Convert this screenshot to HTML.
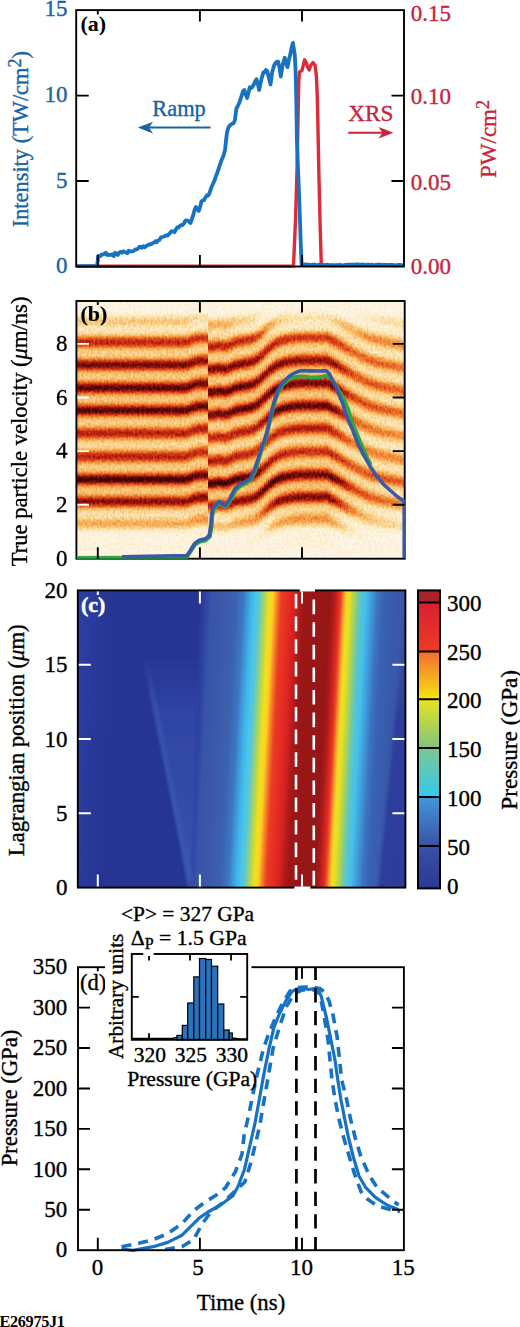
<!DOCTYPE html><html><head><meta charset="utf-8"><style>html,body{margin:0;padding:0;background:#fff;overflow:hidden}svg{display:block}</style></head><body>
<svg width="520" height="1327" viewBox="0 0 520 1327" font-family="Liberation Serif">
<defs><linearGradient id="frL" gradientUnits="userSpaceOnUse" x1="0" y1="290" x2="0" y2="600"><stop offset="0.0000" stop-color="#fbe8d5"/><stop offset="0.0903" stop-color="#fbe8d5"/><stop offset="0.1032" stop-color="#f7c495"/><stop offset="0.1129" stop-color="#f6b880"/><stop offset="0.1226" stop-color="#f9dcc0"/><stop offset="0.1355" stop-color="#f9e0c7"/><stop offset="0.1452" stop-color="#f2985a"/><stop offset="0.1548" stop-color="#d84820"/><stop offset="0.1677" stop-color="#bd2d15"/><stop offset="0.1806" stop-color="#e8723a"/><stop offset="0.1935" stop-color="#f6b880"/><stop offset="0.2065" stop-color="#f9e0c7"/><stop offset="0.2194" stop-color="#f9dcc0"/><stop offset="0.2290" stop-color="#bd2d15"/><stop offset="0.2371" stop-color="#801008"/><stop offset="0.2452" stop-color="#d84820"/><stop offset="0.2548" stop-color="#f4a86d"/><stop offset="0.2677" stop-color="#f9e0c7"/><stop offset="0.2839" stop-color="#f9dcc0"/><stop offset="0.2935" stop-color="#e05d2d"/><stop offset="0.3065" stop-color="#b02010"/><stop offset="0.3194" stop-color="#700d07"/><stop offset="0.3290" stop-color="#d84820"/><stop offset="0.3387" stop-color="#f6b880"/><stop offset="0.3516" stop-color="#fae2cc"/><stop offset="0.3645" stop-color="#f8d0aa"/><stop offset="0.3742" stop-color="#97170b"/><stop offset="0.3823" stop-color="#700d07"/><stop offset="0.3903" stop-color="#ca3a1a"/><stop offset="0.4000" stop-color="#f08848"/><stop offset="0.4129" stop-color="#f8d4b3"/><stop offset="0.4226" stop-color="#f8d0aa"/><stop offset="0.4355" stop-color="#f2985a"/><stop offset="0.4484" stop-color="#f08848"/><stop offset="0.4613" stop-color="#d84820"/><stop offset="0.4710" stop-color="#bd2d15"/><stop offset="0.4806" stop-color="#f4a86d"/><stop offset="0.4935" stop-color="#fae2cc"/><stop offset="0.5097" stop-color="#f9e0c7"/><stop offset="0.5194" stop-color="#e8723a"/><stop offset="0.5290" stop-color="#ca3a1a"/><stop offset="0.5387" stop-color="#bd2d15"/><stop offset="0.5484" stop-color="#ca3a1a"/><stop offset="0.5581" stop-color="#f2985a"/><stop offset="0.5710" stop-color="#f6b880"/><stop offset="0.5871" stop-color="#d84820"/><stop offset="0.5968" stop-color="#b02010"/><stop offset="0.6097" stop-color="#4c0805"/><stop offset="0.6194" stop-color="#410604"/><stop offset="0.6290" stop-color="#bd2d15"/><stop offset="0.6387" stop-color="#f4a86d"/><stop offset="0.6516" stop-color="#f9e0c7"/><stop offset="0.6645" stop-color="#f8d0aa"/><stop offset="0.6742" stop-color="#ca3a1a"/><stop offset="0.6839" stop-color="#a11b0d"/><stop offset="0.6935" stop-color="#d84820"/><stop offset="0.7032" stop-color="#f2985a"/><stop offset="0.7161" stop-color="#f8d0aa"/><stop offset="0.7290" stop-color="#f9e0c7"/><stop offset="0.7419" stop-color="#f7c495"/><stop offset="0.7548" stop-color="#f6b880"/><stop offset="0.7677" stop-color="#f9dcc0"/><stop offset="0.7871" stop-color="#fbe8d5"/><stop offset="0.8710" stop-color="#fbeada"/></linearGradient></defs>
<rect width="520" height="1327" fill="#fff"/>
<polyline points="76.5,266.2 200.0,266.2 293.5,266.0 295.5,220.0 297.0,170.0 298.0,120.0 298.8,80.0 299.5,72.0 302.0,70.5 304.6,59.8 306.5,63.0 307.5,67.0 309.2,70.0 311.0,65.0 313.0,62.5 315.0,65.0 316.3,75.0 317.2,94.0 317.8,120.0 318.8,170.0 320.0,220.0 321.2,262.0 322.0,265.4 404.0,265.4" fill="none" stroke="#dc2c3a" stroke-width="3.4" stroke-linejoin="round"/>
<polyline points="76.5,266.2 77.8,266.2 79.0,266.2 80.3,266.2 81.6,266.2 82.8,266.2 84.1,266.2 85.4,266.2 86.7,266.2 87.9,266.2 89.2,266.2 90.5,266.2 91.7,266.2 93.0,266.2 94.3,266.2 95.5,266.2 96.8,266.2 97.6,262.0 98.2,256.0 98.2,256.0 100.4,256.2 101.7,254.4 103.0,254.5 104.4,254.0 105.8,252.7 107.2,255.1 108.5,254.5 109.8,255.0 111.2,254.9 112.5,254.3 113.8,256.1 115.2,252.7 116.5,254.0 117.8,254.9 119.2,252.6 120.6,251.8 121.9,252.7 123.3,251.3 124.6,251.9 126.0,252.5 127.3,253.2 128.7,250.7 130.0,251.4 131.3,251.4 132.7,251.3 134.0,250.5 135.3,249.5 136.7,249.5 138.0,248.7 139.3,246.9 140.7,246.6 142.0,247.8 143.4,246.2 144.8,247.2 146.2,246.0 147.5,245.3 148.7,244.4 150.0,244.5 151.4,244.1 152.8,243.0 154.2,242.5 155.5,241.2 156.7,242.2 158.0,240.5 159.4,240.0 160.9,237.3 162.3,237.0 163.5,236.7 164.8,236.0 166.0,235.3 167.5,235.6 168.9,234.2 170.4,232.5 171.7,231.2 173.0,231.3 174.4,232.2 175.8,229.8 177.2,227.4 178.5,227.6 179.8,226.0 181.2,225.0 182.6,225.1 184.0,223.5 185.2,220.8 186.5,220.4 188.5,221.0 190.6,223.0 191.9,219.0 193.3,215.0 194.7,209.4 196.0,207.0 197.3,209.6 198.7,211.0 200.1,207.1 201.4,201.5 202.7,200.4 204.1,200.1 205.4,197.5 206.7,195.5 208.1,195.5 209.4,193.5 211.5,187.0 213.5,182.7 214.8,179.7 216.0,176.0 217.5,172.1 219.0,167.7 220.5,163.2 222.0,159.0 223.5,155.7 225.0,150.0 226.9,133.0 228.3,127.7 230.3,125.0 232.3,123.7 233.7,123.2 235.0,119.6 236.3,108.9 237.7,106.1 239.0,103.5 240.3,100.0 241.7,95.4 243.1,91.2 244.4,90.0 245.8,94.7 247.1,98.0 248.4,93.2 249.8,87.3 251.1,88.1 252.5,86.6 253.8,84.6 255.2,81.2 256.5,79.2 257.9,84.2 259.2,90.0 261.2,80.0 263.3,72.5 264.6,72.6 266.0,70.0 267.3,71.2 268.9,77.8 270.5,84.6 272.2,72.0 274.0,65.8 275.4,63.3 276.7,61.8 278.1,61.7 279.5,67.6 280.8,76.5 282.8,64.0 284.8,57.7 286.1,63.3 287.5,67.1 288.9,59.8 290.2,55.0 291.5,48.1 292.9,42.9 294.8,55.0 295.6,72.0 296.3,100.0 296.9,140.0 298.5,180.0 298.5,180.0 299.8,215.0 300.8,245.0 301.6,264.5 302.8,264.4 304.1,264.9 305.3,264.3 306.5,264.6 307.8,264.7 309.0,265.0 310.2,265.0 311.5,265.0 312.7,264.6 313.9,264.7 315.2,264.7 316.4,265.2 317.7,265.3 318.9,264.6 320.1,264.7 321.4,264.8 322.6,264.8 323.8,265.0 325.1,265.1 326.3,264.9 327.5,264.7 328.8,265.1 330.0,265.2 331.2,265.1 332.4,265.2 333.6,265.5 334.8,265.3 336.0,265.1 337.2,265.2 338.4,265.2 339.6,264.7 340.8,265.4 342.0,265.3 343.2,265.3 344.4,265.2 345.6,264.9 346.8,264.9 348.0,264.6 349.2,265.1 350.4,264.6 351.6,264.6 352.8,264.7 354.0,264.6 355.2,264.7 356.4,264.5 357.6,264.4 358.8,264.5 360.0,264.8 361.2,264.5 362.4,264.7 363.7,264.5 364.9,265.1 366.1,264.9 367.3,264.6 368.6,264.7 369.8,264.8 371.0,264.8 372.2,264.6 373.4,265.2 374.7,265.3 375.9,264.9 377.1,264.9 378.3,264.6 379.6,264.7 380.8,264.9 382.0,264.8 383.2,265.3 384.4,264.8 385.7,264.7 386.9,265.4 388.1,265.1 389.3,264.8 390.6,265.1 391.8,264.7 393.0,265.1 394.2,265.5 395.4,265.4 396.7,265.3 397.9,265.0 399.1,265.0 400.3,264.9 401.6,265.4 402.8,265.2 404.0,265.2" fill="none" stroke="#1872c2" stroke-width="3.8" stroke-linejoin="round"/>
<rect x="80" y="14" width="27" height="22" fill="#fff"/>
<rect x="76.2" y="10.1" width="327.8" height="256.4" fill="none" stroke="#000" stroke-width="1.9"/>
<path d="M97.8,10.1v11.5M97.8,266.5v-11.5M199.9,10.1v11.5M199.9,266.5v-11.5M302.0,10.1v11.5M302.0,266.5v-11.5M76.2,181.0h12.5M404.0,181.0h-12.5M76.2,95.6h12.5M404.0,95.6h-12.5" stroke="#000" stroke-width="1.9" fill="none"/>
<rect x="80" y="14.5" width="27" height="21" fill="#fff"/>
<text x="80.5" y="31.3" font-size="22" text-anchor="start" fill="#000" stroke="#000" stroke-width="0" font-weight="bold">(a)</text>
<text x="67.6" y="15.6" font-size="23" text-anchor="end" fill="#1763a3" stroke="#1763a3" stroke-width="0.35" >15</text>
<text x="67.6" y="101.5" font-size="23" text-anchor="end" fill="#1763a3" stroke="#1763a3" stroke-width="0.35" >10</text>
<text x="67.6" y="187.8" font-size="23" text-anchor="end" fill="#1763a3" stroke="#1763a3" stroke-width="0.35" >5</text>
<text x="67.6" y="273.2" font-size="23" text-anchor="end" fill="#1763a3" stroke="#1763a3" stroke-width="0.35" >0</text>
<text x="410.8" y="20.8" font-size="23" text-anchor="start" fill="#c8243c" stroke="#c8243c" stroke-width="0.35" >0.15</text>
<text x="410.8" y="103.6" font-size="23" text-anchor="start" fill="#c8243c" stroke="#c8243c" stroke-width="0.35" >0.10</text>
<text x="410.8" y="189.5" font-size="23" text-anchor="start" fill="#c8243c" stroke="#c8243c" stroke-width="0.35" >0.05</text>
<text x="410.8" y="273.6" font-size="23" text-anchor="start" fill="#c8243c" stroke="#c8243c" stroke-width="0.35" >0.00</text>
<text transform="translate(28.0,139.2) rotate(-90)" x="0" y="0" font-size="22.4" text-anchor="middle" fill="#1763a3" stroke="#1763a3" stroke-width="0.35" >Intensity (TW/cm<tspan dy="-7" font-size="18">2</tspan><tspan dy="7">)</tspan></text>
<text transform="translate(495.8,139) rotate(-90)" x="0" y="0" font-size="23.0" text-anchor="middle" fill="#c8243c" stroke="#c8243c" stroke-width="0.35" >PW/cm<tspan dy="-6.5" font-size="18">2</tspan></text>
<text x="152.3" y="116.2" font-size="22.4" text-anchor="start" fill="#1763a3" stroke="#1763a3" stroke-width="0.35" >Ramp</text>
<text x="348.2" y="121.2" font-size="23.2" text-anchor="start" fill="#c8243c" stroke="#c8243c" stroke-width="0.35" >XRS</text>
<line x1="148" y1="127.6" x2="210.5" y2="127.6" stroke="#1763a3" stroke-width="2"/>
<path d="M137.8,127.6 L153,121.8 L149,127.6 L153,133.4 Z" fill="#1763a3"/>
<line x1="348.2" y1="132.8" x2="384" y2="132.8" stroke="#c8243c" stroke-width="2"/>
<path d="M393.5,132.8 L378.5,127 L382.5,132.8 L378.5,138.6 Z" fill="#c8243c"/>
<defs><linearGradient id="fs" gradientUnits="userSpaceOnUse" x1="0" y1="330.57" x2="0" y2="353.43" spreadMethod="repeat"><stop offset="0.0000" stop-color="rgb(178,178,178)"/><stop offset="0.0417" stop-color="rgb(176,176,176)"/><stop offset="0.0833" stop-color="rgb(174,174,174)"/><stop offset="0.1250" stop-color="rgb(164,164,164)"/><stop offset="0.1667" stop-color="rgb(150,150,150)"/><stop offset="0.2083" stop-color="rgb(133,133,133)"/><stop offset="0.2500" stop-color="rgb(107,107,107)"/><stop offset="0.2917" stop-color="rgb(82,82,82)"/><stop offset="0.3333" stop-color="rgb(57,57,57)"/><stop offset="0.3750" stop-color="rgb(33,33,33)"/><stop offset="0.4167" stop-color="rgb(15,15,15)"/><stop offset="0.4583" stop-color="rgb(7,7,7)"/><stop offset="0.5000" stop-color="rgb(0,0,0)"/><stop offset="0.5417" stop-color="rgb(7,7,7)"/><stop offset="0.5833" stop-color="rgb(15,15,15)"/><stop offset="0.6250" stop-color="rgb(33,33,33)"/><stop offset="0.6667" stop-color="rgb(57,57,57)"/><stop offset="0.7083" stop-color="rgb(82,82,82)"/><stop offset="0.7500" stop-color="rgb(107,107,107)"/><stop offset="0.7917" stop-color="rgb(133,133,133)"/><stop offset="0.8333" stop-color="rgb(150,150,150)"/><stop offset="0.8750" stop-color="rgb(164,164,164)"/><stop offset="0.9167" stop-color="rgb(174,174,174)"/><stop offset="0.9583" stop-color="rgb(176,176,176)"/><stop offset="1.0000" stop-color="rgb(178,178,178)"/></linearGradient><linearGradient id="envW" gradientUnits="userSpaceOnUse" x1="0" y1="295" x2="0" y2="562"><stop offset="0.0000" stop-color="#fff" stop-opacity="0.970"/><stop offset="0.0637" stop-color="#fff" stop-opacity="0.940"/><stop offset="0.0861" stop-color="#fff" stop-opacity="0.800"/><stop offset="0.1049" stop-color="#fff" stop-opacity="0.670"/><stop offset="0.1311" stop-color="#fff" stop-opacity="0.550"/><stop offset="0.1573" stop-color="#fff" stop-opacity="0.300"/><stop offset="0.1873" stop-color="#fff" stop-opacity="0.250"/><stop offset="0.2247" stop-color="#fff" stop-opacity="0.220"/><stop offset="0.2622" stop-color="#fff" stop-opacity="0.100"/><stop offset="0.3109" stop-color="#fff" stop-opacity="0.150"/><stop offset="0.3521" stop-color="#fff" stop-opacity="0.050"/><stop offset="0.3933" stop-color="#fff" stop-opacity="0.100"/><stop offset="0.4307" stop-color="#fff" stop-opacity="0.050"/><stop offset="0.4794" stop-color="#fff" stop-opacity="0.200"/><stop offset="0.5281" stop-color="#fff" stop-opacity="0.250"/><stop offset="0.5655" stop-color="#fff" stop-opacity="0.320"/><stop offset="0.6067" stop-color="#fff" stop-opacity="0.240"/><stop offset="0.6554" stop-color="#fff" stop-opacity="0.150"/><stop offset="0.6966" stop-color="#fff" stop-opacity="0.000"/><stop offset="0.7341" stop-color="#fff" stop-opacity="0.100"/><stop offset="0.7753" stop-color="#fff" stop-opacity="0.140"/><stop offset="0.8090" stop-color="#fff" stop-opacity="0.350"/><stop offset="0.8352" stop-color="#fff" stop-opacity="0.550"/><stop offset="0.8614" stop-color="#fff" stop-opacity="0.650"/><stop offset="0.8876" stop-color="#fff" stop-opacity="0.850"/><stop offset="0.9176" stop-color="#fff" stop-opacity="0.950"/><stop offset="1.0000" stop-color="#fff" stop-opacity="0.980"/></linearGradient><linearGradient id="rW" gradientUnits="userSpaceOnUse" x1="330" y1="0" x2="404" y2="0"><stop offset="0" stop-color="#fff" stop-opacity="0"/><stop offset="0.35" stop-color="#fff" stop-opacity="0.3"/><stop offset="1" stop-color="#fff" stop-opacity="0.42"/></linearGradient><linearGradient id="bW" gradientUnits="userSpaceOnUse" x1="0" y1="500" x2="0" y2="530"><stop offset="0" stop-color="#fff" stop-opacity="0"/><stop offset="1" stop-color="#fff" stop-opacity="0.5"/></linearGradient><filter id="fcm" filterUnits="userSpaceOnUse" x="76.4" y="301" width="328.29999999999995" height="257.70000000000005" color-interpolation-filters="sRGB"><feTurbulence type="fractalNoise" baseFrequency="0.45 0.35" numOctaves="2" seed="3" result="n"/><feColorMatrix in="n" type="matrix" values="1 0 0 0 0  1 0 0 0 0  1 0 0 0 0  0 0 0 0 1" result="ng"/><feComposite in="SourceGraphic" in2="ng" operator="arithmetic" k1="0" k2="1" k3="0.3" k4="-0.15" result="sg"/><feComponentTransfer in="sg"><feFuncR type="table" tableValues="0.157 0.233 0.310 0.385 0.459 0.532 0.601 0.657 0.712 0.767 0.810 0.834 0.859 0.883 0.901 0.913 0.925 0.938 0.946 0.952 0.958 0.964 0.968 0.972 0.976 0.980 0.983 0.985 0.988 0.989 0.990 0.991 0.992"/><feFuncG type="table" tableValues="0.020 0.027 0.035 0.045 0.057 0.069 0.085 0.114 0.142 0.171 0.205 0.248 0.291 0.334 0.379 0.426 0.473 0.520 0.564 0.607 0.650 0.693 0.729 0.763 0.798 0.832 0.859 0.886 0.913 0.928 0.940 0.952 0.965"/><feFuncB type="table" tableValues="0.020 0.024 0.029 0.034 0.038 0.043 0.050 0.060 0.070 0.080 0.091 0.103 0.116 0.128 0.145 0.165 0.186 0.206 0.240 0.279 0.317 0.356 0.406 0.457 0.508 0.559 0.621 0.682 0.743 0.787 0.828 0.869 0.910"/></feComponentTransfer></filter></defs>
<clipPath id="cb"><rect x="76.4" y="301" width="328.29999999999995" height="257.70000000000005"/></clipPath>
<g clip-path="url(#cb)"><g filter="url(#fcm)">
<rect x="76.4" y="301" width="186" height="257.70000000000005" fill="url(#fs)"/>
<rect x="186.0" y="261" width="2.6" height="337.70000000000005" fill="url(#fs)" transform="translate(0,-0.42)"/>
<rect x="188.0" y="261" width="2.6" height="337.70000000000005" fill="url(#fs)" transform="translate(0,-1.05)"/>
<rect x="190.0" y="261" width="2.6" height="337.70000000000005" fill="url(#fs)" transform="translate(0,-1.89)"/>
<rect x="192.0" y="261" width="2.6" height="337.70000000000005" fill="url(#fs)" transform="translate(0,-2.68)"/>
<rect x="194.0" y="261" width="2.6" height="337.70000000000005" fill="url(#fs)" transform="translate(0,-3.47)"/>
<rect x="196.0" y="261" width="2.6" height="337.70000000000005" fill="url(#fs)" transform="translate(0,-3.87)"/>
<rect x="198.0" y="261" width="2.6" height="337.70000000000005" fill="url(#fs)" transform="translate(0,-4.28)"/>
<rect x="200.0" y="261" width="2.6" height="337.70000000000005" fill="url(#fs)" transform="translate(0,-4.35)"/>
<rect x="202.0" y="261" width="2.6" height="337.70000000000005" fill="url(#fs)" transform="translate(0,-4.41)"/>
<rect x="204.0" y="261" width="2.6" height="337.70000000000005" fill="url(#fs)" transform="translate(0,-4.47)"/>
<rect x="206.0" y="261" width="2.6" height="337.70000000000005" fill="url(#fs)" transform="translate(0,-4.54)"/>
<rect x="208.0" y="261" width="2.6" height="337.70000000000005" fill="url(#fs)" transform="translate(0,4.63)"/>
<rect x="210.0" y="261" width="2.6" height="337.70000000000005" fill="url(#fs)" transform="translate(0,4.63)"/>
<rect x="212.0" y="261" width="2.6" height="337.70000000000005" fill="url(#fs)" transform="translate(0,4.63)"/>
<rect x="214.0" y="261" width="2.6" height="337.70000000000005" fill="url(#fs)" transform="translate(0,4.21)"/>
<rect x="216.0" y="261" width="2.6" height="337.70000000000005" fill="url(#fs)" transform="translate(0,3.79)"/>
<rect x="218.0" y="261" width="2.6" height="337.70000000000005" fill="url(#fs)" transform="translate(0,3.37)"/>
<rect x="220.0" y="261" width="2.6" height="337.70000000000005" fill="url(#fs)" transform="translate(0,3.79)"/>
<rect x="222.0" y="261" width="2.6" height="337.70000000000005" fill="url(#fs)" transform="translate(0,4.05)"/>
<rect x="224.0" y="261" width="2.6" height="337.70000000000005" fill="url(#fs)" transform="translate(0,4.14)"/>
<rect x="226.0" y="261" width="2.6" height="337.70000000000005" fill="url(#fs)" transform="translate(0,3.83)"/>
<rect x="228.0" y="261" width="2.6" height="337.70000000000005" fill="url(#fs)" transform="translate(0,3.10)"/>
<rect x="230.0" y="261" width="2.6" height="337.70000000000005" fill="url(#fs)" transform="translate(0,2.24)"/>
<rect x="232.0" y="261" width="2.6" height="337.70000000000005" fill="url(#fs)" transform="translate(0,1.23)"/>
<rect x="234.0" y="261" width="2.6" height="337.70000000000005" fill="url(#fs)" transform="translate(0,0.22)"/>
<rect x="236.0" y="261" width="2.6" height="337.70000000000005" fill="url(#fs)" transform="translate(0,-0.28)"/>
<rect x="238.0" y="261" width="2.6" height="337.70000000000005" fill="url(#fs)" transform="translate(0,-0.79)"/>
<rect x="240.0" y="261" width="2.6" height="337.70000000000005" fill="url(#fs)" transform="translate(0,-1.20)"/>
<rect x="242.0" y="261" width="2.6" height="337.70000000000005" fill="url(#fs)" transform="translate(0,-1.51)"/>
<rect x="244.0" y="261" width="2.6" height="337.70000000000005" fill="url(#fs)" transform="translate(0,-1.83)"/>
<rect x="246.0" y="261" width="2.6" height="337.70000000000005" fill="url(#fs)" transform="translate(0,-2.14)"/>
<rect x="248.0" y="261" width="2.6" height="337.70000000000005" fill="url(#fs)" transform="translate(0,-2.61)"/>
<rect x="250.0" y="261" width="2.6" height="337.70000000000005" fill="url(#fs)" transform="translate(0,-3.24)"/>
<rect x="252.0" y="261" width="2.6" height="337.70000000000005" fill="url(#fs)" transform="translate(0,-3.88)"/>
<rect x="254.0" y="261" width="2.6" height="337.70000000000005" fill="url(#fs)" transform="translate(0,-4.82)"/>
<rect x="256.0" y="261" width="2.6" height="337.70000000000005" fill="url(#fs)" transform="translate(0,-6.08)"/>
<rect x="258.0" y="261" width="2.6" height="337.70000000000005" fill="url(#fs)" transform="translate(0,-7.50)"/>
<rect x="260.0" y="261" width="2.6" height="337.70000000000005" fill="url(#fs)" transform="translate(0,-9.07)"/>
<rect x="262.0" y="261" width="2.6" height="337.70000000000005" fill="url(#fs)" transform="translate(0,-10.80)"/>
<rect x="264.0" y="261" width="2.6" height="337.70000000000005" fill="url(#fs)" transform="translate(0,-12.70)"/>
<rect x="266.0" y="261" width="2.6" height="337.70000000000005" fill="url(#fs)" transform="translate(0,-14.59)"/>
<rect x="268.0" y="261" width="2.6" height="337.70000000000005" fill="url(#fs)" transform="translate(0,-16.47)"/>
<rect x="270.0" y="261" width="2.6" height="337.70000000000005" fill="url(#fs)" transform="translate(0,-18.21)"/>
<rect x="272.0" y="261" width="2.6" height="337.70000000000005" fill="url(#fs)" transform="translate(0,-19.78)"/>
<rect x="274.0" y="261" width="2.6" height="337.70000000000005" fill="url(#fs)" transform="translate(0,-21.20)"/>
<rect x="276.0" y="261" width="2.6" height="337.70000000000005" fill="url(#fs)" transform="translate(0,-22.46)"/>
<rect x="278.0" y="261" width="2.6" height="337.70000000000005" fill="url(#fs)" transform="translate(0,-23.47)"/>
<rect x="280.0" y="261" width="2.6" height="337.70000000000005" fill="url(#fs)" transform="translate(0,-24.22)"/>
<rect x="282.0" y="261" width="2.6" height="337.70000000000005" fill="url(#fs)" transform="translate(0,-24.98)"/>
<rect x="284.0" y="261" width="2.6" height="337.70000000000005" fill="url(#fs)" transform="translate(0,-25.43)"/>
<rect x="286.0" y="261" width="2.6" height="337.70000000000005" fill="url(#fs)" transform="translate(0,-25.88)"/>
<rect x="288.0" y="261" width="2.6" height="337.70000000000005" fill="url(#fs)" transform="translate(0,-26.33)"/>
<rect x="290.0" y="261" width="2.6" height="337.70000000000005" fill="url(#fs)" transform="translate(0,-26.69)"/>
<rect x="292.0" y="261" width="2.6" height="337.70000000000005" fill="url(#fs)" transform="translate(0,-26.96)"/>
<rect x="294.0" y="261" width="2.6" height="337.70000000000005" fill="url(#fs)" transform="translate(0,-27.23)"/>
<rect x="296.0" y="261" width="2.6" height="337.70000000000005" fill="url(#fs)" transform="translate(0,-27.50)"/>
<rect x="298.0" y="261" width="2.6" height="337.70000000000005" fill="url(#fs)" transform="translate(0,-27.61)"/>
<rect x="300.0" y="261" width="2.6" height="337.70000000000005" fill="url(#fs)" transform="translate(0,-27.71)"/>
<rect x="302.0" y="261" width="2.6" height="337.70000000000005" fill="url(#fs)" transform="translate(0,-27.81)"/>
<rect x="304.0" y="261" width="2.6" height="337.70000000000005" fill="url(#fs)" transform="translate(0,-27.81)"/>
<rect x="306.0" y="261" width="2.6" height="337.70000000000005" fill="url(#fs)" transform="translate(0,-27.81)"/>
<rect x="308.0" y="261" width="2.6" height="337.70000000000005" fill="url(#fs)" transform="translate(0,-27.81)"/>
<rect x="310.0" y="261" width="2.6" height="337.70000000000005" fill="url(#fs)" transform="translate(0,-27.81)"/>
<rect x="312.0" y="261" width="2.6" height="337.70000000000005" fill="url(#fs)" transform="translate(0,-27.81)"/>
<rect x="314.0" y="261" width="2.6" height="337.70000000000005" fill="url(#fs)" transform="translate(0,-27.81)"/>
<rect x="316.0" y="261" width="2.6" height="337.70000000000005" fill="url(#fs)" transform="translate(0,-27.81)"/>
<rect x="318.0" y="261" width="2.6" height="337.70000000000005" fill="url(#fs)" transform="translate(0,-27.81)"/>
<rect x="320.0" y="261" width="2.6" height="337.70000000000005" fill="url(#fs)" transform="translate(0,-27.81)"/>
<rect x="322.0" y="261" width="2.6" height="337.70000000000005" fill="url(#fs)" transform="translate(0,-27.81)"/>
<rect x="324.0" y="261" width="2.6" height="337.70000000000005" fill="url(#fs)" transform="translate(0,-27.81)"/>
<rect x="326.0" y="261" width="2.6" height="337.70000000000005" fill="url(#fs)" transform="translate(0,-27.81)"/>
<rect x="328.0" y="261" width="2.6" height="337.70000000000005" fill="url(#fs)" transform="translate(0,-26.76)"/>
<rect x="330.0" y="261" width="2.6" height="337.70000000000005" fill="url(#fs)" transform="translate(0,-25.61)"/>
<rect x="332.0" y="261" width="2.6" height="337.70000000000005" fill="url(#fs)" transform="translate(0,-24.35)"/>
<rect x="334.0" y="261" width="2.6" height="337.70000000000005" fill="url(#fs)" transform="translate(0,-23.40)"/>
<rect x="336.0" y="261" width="2.6" height="337.70000000000005" fill="url(#fs)" transform="translate(0,-22.46)"/>
<rect x="338.0" y="261" width="2.6" height="337.70000000000005" fill="url(#fs)" transform="translate(0,-21.20)"/>
<rect x="340.0" y="261" width="2.6" height="337.70000000000005" fill="url(#fs)" transform="translate(0,-19.94)"/>
<rect x="342.0" y="261" width="2.6" height="337.70000000000005" fill="url(#fs)" transform="translate(0,-18.68)"/>
<rect x="344.0" y="261" width="2.6" height="337.70000000000005" fill="url(#fs)" transform="translate(0,-17.42)"/>
<rect x="346.0" y="261" width="2.6" height="337.70000000000005" fill="url(#fs)" transform="translate(0,-16.16)"/>
<rect x="348.0" y="261" width="2.6" height="337.70000000000005" fill="url(#fs)" transform="translate(0,-15.15)"/>
<rect x="350.0" y="261" width="2.6" height="337.70000000000005" fill="url(#fs)" transform="translate(0,-14.14)"/>
<rect x="352.0" y="261" width="2.6" height="337.70000000000005" fill="url(#fs)" transform="translate(0,-13.12)"/>
<rect x="354.0" y="261" width="2.6" height="337.70000000000005" fill="url(#fs)" transform="translate(0,-12.06)"/>
<rect x="356.0" y="261" width="2.6" height="337.70000000000005" fill="url(#fs)" transform="translate(0,-11.01)"/>
<rect x="358.0" y="261" width="2.6" height="337.70000000000005" fill="url(#fs)" transform="translate(0,-9.96)"/>
<rect x="360.0" y="261" width="2.6" height="337.70000000000005" fill="url(#fs)" transform="translate(0,-8.91)"/>
<rect x="362.0" y="261" width="2.6" height="337.70000000000005" fill="url(#fs)" transform="translate(0,-7.87)"/>
<rect x="364.0" y="261" width="2.6" height="337.70000000000005" fill="url(#fs)" transform="translate(0,-6.92)"/>
<rect x="366.0" y="261" width="2.6" height="337.70000000000005" fill="url(#fs)" transform="translate(0,-6.08)"/>
<rect x="368.0" y="261" width="2.6" height="337.70000000000005" fill="url(#fs)" transform="translate(0,-5.24)"/>
<rect x="370.0" y="261" width="2.6" height="337.70000000000005" fill="url(#fs)" transform="translate(0,-4.51)"/>
<rect x="372.0" y="261" width="2.6" height="337.70000000000005" fill="url(#fs)" transform="translate(0,-3.88)"/>
<rect x="374.0" y="261" width="2.6" height="337.70000000000005" fill="url(#fs)" transform="translate(0,-3.24)"/>
<rect x="376.0" y="261" width="2.6" height="337.70000000000005" fill="url(#fs)" transform="translate(0,-2.65)"/>
<rect x="378.0" y="261" width="2.6" height="337.70000000000005" fill="url(#fs)" transform="translate(0,-2.10)"/>
<rect x="380.0" y="261" width="2.6" height="337.70000000000005" fill="url(#fs)" transform="translate(0,-1.55)"/>
<rect x="382.0" y="261" width="2.6" height="337.70000000000005" fill="url(#fs)" transform="translate(0,-1.00)"/>
<rect x="384.0" y="261" width="2.6" height="337.70000000000005" fill="url(#fs)" transform="translate(0,-0.53)"/>
<rect x="386.0" y="261" width="2.6" height="337.70000000000005" fill="url(#fs)" transform="translate(0,-0.13)"/>
<rect x="388.0" y="261" width="2.6" height="337.70000000000005" fill="url(#fs)" transform="translate(0,0.26)"/>
<rect x="390.0" y="261" width="2.6" height="337.70000000000005" fill="url(#fs)" transform="translate(0,0.65)"/>
<rect x="392.0" y="261" width="2.6" height="337.70000000000005" fill="url(#fs)" transform="translate(0,1.06)"/>
<rect x="394.0" y="261" width="2.6" height="337.70000000000005" fill="url(#fs)" transform="translate(0,1.48)"/>
<rect x="396.0" y="261" width="2.6" height="337.70000000000005" fill="url(#fs)" transform="translate(0,1.90)"/>
<rect x="398.0" y="261" width="2.6" height="337.70000000000005" fill="url(#fs)" transform="translate(0,2.32)"/>
<rect x="400.0" y="261" width="2.6" height="337.70000000000005" fill="url(#fs)" transform="translate(0,2.74)"/>
<rect x="402.0" y="261" width="2.6" height="337.70000000000005" fill="url(#fs)" transform="translate(0,3.16)"/>
<rect x="404.0" y="261" width="2.6" height="337.70000000000005" fill="url(#fs)" transform="translate(0,3.37)"/>
<rect x="76.4" y="301" width="328.29999999999995" height="257.70000000000005" fill="url(#envW)"/>
<rect x="330" y="301" width="80" height="257.70000000000005" fill="url(#rW)"/>
</g></g>
<rect x="76.4" y="301" width="328.29999999999995" height="257.70000000000005" fill="none" stroke="#000" stroke-width="1.9"/>
<polyline points="76.5,557.8 186.9,557.3 190.5,552.0 195.0,545.0 199.5,542.0 205.8,540.5 210.0,537.0 211.8,527.0 212.5,516.0 214.0,509.0 217.0,506.0 220.0,503.5 223.0,505.5 226.0,507.0 230.0,501.5 232.5,497.0 235.5,491.0 240.0,486.5 246.0,483.5 251.0,480.0 255.0,472.0 258.8,460.0 263.0,446.0 265.3,441.0 267.8,432.0 271.3,416.5 274.7,403.0 278.2,393.0 283.2,384.5 290.0,378.5 297.5,376.5 302.7,376.3 312.1,377.5 319.0,377.3 326.0,375.6 330.6,378.0 335.5,384.5 340.0,392.0 344.5,400.0 348.5,410.0 352.0,422.0 356.5,432.2 362.0,445.6 367.5,458.0 371.0,465.0" fill="none" stroke="#2ca844" stroke-width="3.4" stroke-linejoin="round" clip-path="url(#cb)"/>
<polyline points="122.0,556.8 186.9,555.6 190.0,551.0 194.6,543.5 199.2,540.3 205.4,538.8 209.2,535.4 210.8,526.0 211.5,515.4 213.0,507.7 216.2,504.6 219.2,501.5 222.3,503.8 225.4,505.4 229.2,500.0 231.5,495.4 234.6,489.2 239.2,484.6 245.4,481.5 250.0,479.0 254.0,471.0 258.0,459.0 262.3,445.4 264.5,440.0 267.1,431.2 270.6,415.6 274.0,401.7 277.5,391.3 282.7,382.7 289.6,375.8 296.5,372.0 301.7,370.6 312.1,370.9 319.0,371.0 326.0,370.6 329.4,374.0 332.9,381.0 336.3,387.9 339.8,396.5 343.3,405.2 346.9,417.0 352.3,429.2 357.7,443.0 363.8,455.4 370.0,466.2 376.2,475.4 383.8,484.6 391.5,491.5 397.7,497.0 404.2,501.5 404.2,558.0" fill="none" stroke="#3b5aa6" stroke-width="3.6" stroke-linejoin="round"/>
<path d="M97.8,301v4M97.8,558.7v-11.5M199.9,301v11.5M199.9,558.7v-11.5M302.0,301v11.5M302.0,558.7v-11.5M404.7,504.7h-12M404.7,451.1h-12M404.7,397.5h-12M404.7,343.9h-12" stroke="#000" stroke-width="1.9" fill="none"/>
<path d="M77.4,504.7h11.5M77.4,451.1h11.5M77.4,397.5h11.5M77.4,343.9h11.5" stroke="#fff" stroke-width="1.9" fill="none"/>
<text x="80.5" y="320.6" font-size="22" text-anchor="start" fill="#000" stroke="#000" stroke-width="0.2" font-weight="bold">(b)</text>
<text x="67.6" y="565.5999999999999" font-size="23" text-anchor="end" fill="#000" stroke="#000" stroke-width="0.35" >0</text>
<text x="67.6" y="511.99999999999994" font-size="23" text-anchor="end" fill="#000" stroke="#000" stroke-width="0.35" >2</text>
<text x="67.6" y="458.4" font-size="23" text-anchor="end" fill="#000" stroke="#000" stroke-width="0.35" >4</text>
<text x="67.6" y="404.79999999999995" font-size="23" text-anchor="end" fill="#000" stroke="#000" stroke-width="0.35" >6</text>
<text x="67.6" y="351.2" font-size="23" text-anchor="end" fill="#000" stroke="#000" stroke-width="0.35" >8</text>
<text transform="translate(27.3,431.4) rotate(-90)" x="0" y="0" font-size="22.6" text-anchor="middle" fill="#000" stroke="#000" stroke-width="0.35" >True particle velocity (<tspan font-style="italic">&#956;</tspan>m/ns)</text>
<defs><linearGradient id="pc" gradientUnits="userSpaceOnUse" x1="60" y1="0" x2="440" y2="0" gradientTransform="matrix(1,0,-0.053,1,39.22,0)"><stop offset="0.0447" stop-color="#2c3e9e"/><stop offset="0.0842" stop-color="#29399a"/><stop offset="0.1316" stop-color="#263592"/><stop offset="0.3474" stop-color="#263592"/><stop offset="0.3605" stop-color="#2c40a0"/><stop offset="0.3789" stop-color="#3854a8"/><stop offset="0.4053" stop-color="#3b58a8"/><stop offset="0.4421" stop-color="#3b62b0"/><stop offset="0.4632" stop-color="#3c78c4"/><stop offset="0.4737" stop-color="#3e98d8"/><stop offset="0.4842" stop-color="#40b4e8"/><stop offset="0.4947" stop-color="#48c4ec"/><stop offset="0.5039" stop-color="#5cc8d0"/><stop offset="0.5132" stop-color="#88d090"/><stop offset="0.5221" stop-color="#c0d840"/><stop offset="0.5316" stop-color="#f0e020"/><stop offset="0.5416" stop-color="#fcd020"/><stop offset="0.5474" stop-color="#f8a028"/><stop offset="0.5553" stop-color="#f26a26"/><stop offset="0.5632" stop-color="#ea3c24"/><stop offset="0.5842" stop-color="#e42a22"/><stop offset="0.6000" stop-color="#d02020"/><stop offset="0.6105" stop-color="#b01a1a"/><stop offset="0.6237" stop-color="#9c1616"/><stop offset="0.6895" stop-color="#961616"/><stop offset="0.7000" stop-color="#a81a1a"/><stop offset="0.7079" stop-color="#cc2020"/><stop offset="0.7158" stop-color="#e23022"/><stop offset="0.7224" stop-color="#f06028"/><stop offset="0.7276" stop-color="#f6a02a"/><stop offset="0.7342" stop-color="#f4d824"/><stop offset="0.7421" stop-color="#e8e020"/><stop offset="0.7500" stop-color="#c0d840"/><stop offset="0.7579" stop-color="#98d070"/><stop offset="0.7658" stop-color="#70c8a8"/><stop offset="0.7750" stop-color="#50c4d8"/><stop offset="0.7842" stop-color="#46c0ec"/><stop offset="0.7947" stop-color="#40a8e0"/><stop offset="0.8053" stop-color="#3e90d0"/><stop offset="0.8158" stop-color="#3c74c0"/><stop offset="0.8316" stop-color="#3a62b4"/><stop offset="0.8684" stop-color="#3858a8"/><stop offset="0.9737" stop-color="#3450a6"/></linearGradient></defs>
<rect x="77.8" y="590.4" width="327.59999999999997" height="297.20000000000005" fill="url(#pc)"/>
<defs><linearGradient id="wdg" gradientUnits="userSpaceOnUse" x1="0" y1="655" x2="0" y2="880"><stop offset="0" stop-color="#2c40a2" stop-opacity="0"/><stop offset="0.25" stop-color="#2e44a4" stop-opacity="1"/><stop offset="1" stop-color="#3854ac" stop-opacity="1"/></linearGradient><linearGradient id="stg" gradientUnits="userSpaceOnUse" x1="0" y1="655" x2="0" y2="870"><stop offset="0" stop-color="#3a58b0" stop-opacity="0"/><stop offset="0.25" stop-color="#3a58b0" stop-opacity="0.7"/><stop offset="1" stop-color="#3a58b0" stop-opacity="0.9"/></linearGradient><linearGradient id="rwg" gradientUnits="userSpaceOnUse" x1="0" y1="620" x2="0" y2="720"><stop offset="0" stop-color="#2c3a9a" stop-opacity="0"/><stop offset="1" stop-color="#2c3a9a" stop-opacity="0.9"/></linearGradient><filter id="bl2" x="-20%" y="-5%" width="140%" height="110%"><feGaussianBlur stdDeviation="1.6"/></filter></defs>
<clipPath id="cc"><rect x="77.8" y="590.4" width="327.59999999999997" height="297.20000000000005"/></clipPath><g clip-path="url(#cc)">
<polygon points="145,660 199,660 191,890.6 189.5,890.6" fill="url(#wdg)" filter="url(#bl2)"/>
<line x1="145" y1="658" x2="190" y2="880" stroke="url(#stg)" stroke-width="5" filter="url(#bl2)"/>
<polygon points="406,612 378,889.6 406,889.6" fill="url(#rwg)" filter="url(#bl2)"/>
</g>
<path d="M296,594V887.6" stroke="#fff" stroke-width="2.6" stroke-dasharray="14.6 8" fill="none"/>
<path d="M313.8,599.6V887.6" stroke="#fff" stroke-width="2.6" stroke-dasharray="14.6 8" fill="none"/>
<rect x="77.8" y="590.4" width="327.59999999999997" height="297.20000000000005" fill="none" stroke="#000" stroke-width="1.9"/>
<rect x="299.7" y="588" width="15.3" height="3.5" fill="#fff"/>
<rect x="294.4" y="886.5" width="16" height="3" fill="#fff"/>
<path d="M97.8,591.4v3.5M97.8,886.6v-12M199.9,591.4v12M199.9,886.6v-12M302.0,591.4v12M302.0,886.6v-12M78.8,813.3h12M404.4,813.3h-12M78.8,739.0h12M404.4,739.0h-12M78.8,664.7h12M404.4,664.7h-12" stroke="#fff" stroke-width="2" fill="none"/>
<text x="81" y="612" font-size="22" text-anchor="start" fill="#fff" stroke="#fff" stroke-width="0.5" font-weight="bold">(c)</text>
<text x="67.6" y="895.2" font-size="23" text-anchor="end" fill="#000" stroke="#000" stroke-width="0.35" >0</text>
<text x="67.6" y="820.9" font-size="23" text-anchor="end" fill="#000" stroke="#000" stroke-width="0.35" >5</text>
<text x="67.6" y="746.6" font-size="23" text-anchor="end" fill="#000" stroke="#000" stroke-width="0.35" >10</text>
<text x="67.6" y="672.3000000000001" font-size="23" text-anchor="end" fill="#000" stroke="#000" stroke-width="0.35" >15</text>
<text x="67.6" y="598.0" font-size="23" text-anchor="end" fill="#000" stroke="#000" stroke-width="0.35" >20</text>
<text transform="translate(24.3,740.3) rotate(-90)" x="0" y="0" font-size="22.7" text-anchor="middle" fill="#000" stroke="#000" stroke-width="0.35" >Lagrangian position (<tspan font-style="italic">&#956;</tspan>m)</text>
<defs><linearGradient id="cbg0" x1="0" y1="0" x2="0" y2="1"><stop offset="0" stop-color="#a8242a"/><stop offset="1" stop-color="#a8242a"/></linearGradient><linearGradient id="cbg1" x1="0" y1="0" x2="0" y2="1"><stop offset="0" stop-color="#d82030"/><stop offset="1" stop-color="#f03a26"/></linearGradient><linearGradient id="cbg2" x1="0" y1="0" x2="0" y2="1"><stop offset="0" stop-color="#f06c30"/><stop offset="1" stop-color="#f8e410"/></linearGradient><linearGradient id="cbg3" x1="0" y1="0" x2="0" y2="1"><stop offset="0" stop-color="#e8e41e"/><stop offset="1" stop-color="#80c47c"/></linearGradient><linearGradient id="cbg4" x1="0" y1="0" x2="0" y2="1"><stop offset="0" stop-color="#7cc890"/><stop offset="1" stop-color="#34c8f0"/></linearGradient><linearGradient id="cbg5" x1="0" y1="0" x2="0" y2="1"><stop offset="0" stop-color="#4098d8"/><stop offset="1" stop-color="#3a52a8"/></linearGradient><linearGradient id="cbg6" x1="0" y1="0" x2="0" y2="1"><stop offset="0" stop-color="#3a50a8"/><stop offset="1" stop-color="#2a3896"/></linearGradient></defs>
<rect x="418" y="590.4" width="22" height="12.0" fill="url(#cbg0)"/>
<rect x="418" y="602.4" width="22" height="49.200000000000045" fill="url(#cbg1)"/>
<rect x="418" y="651.6" width="22" height="47.69999999999993" fill="url(#cbg2)"/>
<rect x="418" y="699.3" width="22" height="48.700000000000045" fill="url(#cbg3)"/>
<rect x="418" y="748" width="22" height="48.89999999999998" fill="url(#cbg4)"/>
<rect x="418" y="796.9" width="22" height="49.10000000000002" fill="url(#cbg5)"/>
<rect x="418" y="846" width="22" height="42.39999999999998" fill="url(#cbg6)"/>
<path d="M418,602.4H440M418,651.6H440M418,699.3H440M418,748H440M418,796.9H440M418,846H440" stroke="#000" stroke-width="2" fill="none"/>
<rect x="418" y="590.4" width="22" height="298.0" fill="none" stroke="#000" stroke-width="2"/>
<text x="446.9" y="611.2" font-size="23" text-anchor="start" fill="#000" stroke="#000" stroke-width="0.35" >300</text>
<text x="446.9" y="659.7" font-size="23" text-anchor="start" fill="#000" stroke="#000" stroke-width="0.35" >250</text>
<text x="446.9" y="708.2" font-size="23" text-anchor="start" fill="#000" stroke="#000" stroke-width="0.35" >200</text>
<text x="446.9" y="757.2" font-size="23" text-anchor="start" fill="#000" stroke="#000" stroke-width="0.35" >150</text>
<text x="446.9" y="806.0" font-size="23" text-anchor="start" fill="#000" stroke="#000" stroke-width="0.35" >100</text>
<text x="446.9" y="854.7" font-size="23" text-anchor="start" fill="#000" stroke="#000" stroke-width="0.35" >50</text>
<text x="446.9" y="894.2" font-size="23" text-anchor="start" fill="#000" stroke="#000" stroke-width="0.35" >0</text>
<text transform="translate(516.9,739.8) rotate(-90)" x="0" y="0" font-size="23.2" text-anchor="middle" fill="#000" stroke="#000" stroke-width="0.35" >Pressure (GPa)</text>
<polyline points="121.5,1246.7 138.8,1243.3 153.3,1239.5 167.7,1233.7 182.0,1223.6 193.6,1210.7 205.2,1202.0 216.7,1194.8 225.5,1187.7 235.5,1171.5 242.0,1154.2 244.2,1134.6 248.8,1115.0 251.7,1100.0 257.0,1075.0 263.7,1047.8 268.5,1034.3 275.3,1018.0 282.0,1004.4 290.0,991.0 297.0,987.5 306.0,987.0 314.0,987.5 320.0,988.5 324.5,992.0 329.0,1001.0 333.0,1015.0 337.0,1036.0 341.7,1080.0 346.5,1099.0 350.4,1118.5 355.2,1137.7 361.0,1157.0 369.6,1176.0 377.3,1187.7 390.8,1199.0 398.5,1205.0" fill="none" stroke="#1872c2" stroke-width="3.6" stroke-dasharray="10 7" stroke-linejoin="round"/>
<polyline points="165.0,1249.5 182.0,1246.7 193.6,1239.5 202.3,1223.6 211.0,1212.0 225.4,1200.6 234.0,1192.0 244.8,1182.0 250.6,1163.5 255.2,1145.0 259.8,1125.4 263.3,1104.6 268.5,1075.0 273.2,1047.8 279.3,1027.5 286.1,1007.0 294.3,993.6 302.0,990.0 312.0,989.5 318.0,991.0 321.0,1000.0 324.0,1015.0 328.0,1040.0 332.0,1080.0 335.0,1099.0 338.8,1118.5 343.7,1137.7 349.4,1157.0 355.2,1176.0 361.0,1191.5 367.7,1199.2 377.3,1206.0 394.6,1210.8 400.0,1211.5" fill="none" stroke="#1872c2" stroke-width="3.6" stroke-dasharray="10 7" stroke-linejoin="round"/>
<polyline points="121.5,1249.0 133.0,1250.3 153.3,1246.7 167.7,1242.4 182.0,1235.2 193.6,1223.6 199.4,1217.9 208.0,1212.0 220.5,1205.0 233.0,1195.8 238.0,1186.5 244.5,1169.2 249.8,1146.0 255.0,1123.0 259.2,1100.0 263.7,1075.0 269.2,1047.8 273.9,1027.5 279.3,1014.0 286.1,1000.4 292.0,991.5 297.0,989.0 303.0,988.5 309.0,989.5 314.0,988.5 318.0,989.0 321.2,996.2 326.4,1017.3 330.7,1038.5 334.9,1059.6 337.8,1080.0 340.8,1099.0 344.6,1118.5 348.5,1137.7 353.3,1157.0 359.0,1176.0 365.8,1187.7 375.4,1197.3 386.9,1205.0 398.5,1209.8" fill="none" stroke="#1872c2" stroke-width="3.2" stroke-linejoin="round"/>
<path d="M296.4,1250.2V967.2M315.5,1250.2V967.2" stroke="#000" stroke-width="2.7" stroke-dasharray="14.3 8.3" stroke-dashoffset="1" fill="none"/>
<rect x="78" y="967.2" width="325.9" height="283.0" fill="none" stroke="#000" stroke-width="1.9"/>
<path d="M97.8,967.2v4M97.8,1250.2v-12.5M199.9,967.2v11.5M199.9,1250.2v-12.5M302.0,967.2v11.5M302.0,1250.2v-12.5M78,1209.8h12M403.9,1209.8h-12M78,1169.3h12M403.9,1169.3h-12M78,1128.9h12M403.9,1128.9h-12M78,1088.5h12M403.9,1088.5h-12M78,1048.0h12M403.9,1048.0h-12M78,1007.6h12M403.9,1007.6h-12" stroke="#000" stroke-width="1.9" fill="none"/>
<text x="80" y="990.2" font-size="22.6" text-anchor="start" fill="#000" stroke="#000" stroke-width="0.35" >(d)</text>
<text x="67.3" y="1257.4" font-size="23" text-anchor="end" fill="#000" stroke="#000" stroke-width="0.35" >0</text>
<text x="67.3" y="1216.97" font-size="23" text-anchor="end" fill="#000" stroke="#000" stroke-width="0.35" >50</text>
<text x="67.3" y="1176.5400000000002" font-size="23" text-anchor="end" fill="#000" stroke="#000" stroke-width="0.35" >100</text>
<text x="67.3" y="1136.1100000000001" font-size="23" text-anchor="end" fill="#000" stroke="#000" stroke-width="0.35" >150</text>
<text x="67.3" y="1095.68" font-size="23" text-anchor="end" fill="#000" stroke="#000" stroke-width="0.35" >200</text>
<text x="67.3" y="1055.25" font-size="23" text-anchor="end" fill="#000" stroke="#000" stroke-width="0.35" >250</text>
<text x="67.3" y="1014.8200000000002" font-size="23" text-anchor="end" fill="#000" stroke="#000" stroke-width="0.35" >300</text>
<text x="67.3" y="974.3900000000001" font-size="23" text-anchor="end" fill="#000" stroke="#000" stroke-width="0.35" >350</text>
<text x="97.5" y="1274.8" font-size="23" text-anchor="middle" fill="#000" stroke="#000" stroke-width="0.35" >0</text>
<text x="198.1" y="1274.8" font-size="23" text-anchor="middle" fill="#000" stroke="#000" stroke-width="0.35" >5</text>
<text x="301.4" y="1274.8" font-size="23" text-anchor="middle" fill="#000" stroke="#000" stroke-width="0.35" >10</text>
<text x="403.3" y="1274.8" font-size="23" text-anchor="middle" fill="#000" stroke="#000" stroke-width="0.35" >15</text>
<text x="241" y="1309.6" font-size="22.8" text-anchor="middle" fill="#000" stroke="#000" stroke-width="0.35" >Time (ns)</text>
<text transform="translate(17.0,1098) rotate(-90)" x="0" y="0" font-size="22.7" text-anchor="middle" fill="#000" stroke="#000" stroke-width="0.35" >Pressure (GPa)</text>
<rect x="105" y="900" width="146.5" height="190" fill="#fff"/>
<path d="M149.0,954v6.5M149.0,1039.8v-6.5M190.0,954v6.5M190.0,1039.8v-6.5M231.0,954v6.5M231.0,1039.8v-6.5M131.8,996.9h7M247.2,996.9h-7" stroke="#000" stroke-width="1.8" fill="none"/>
<rect x="176.9" y="1035.4" width="5.400000000000006" height="4.399999999999864" fill="#2a72ba" stroke="#000" stroke-width="1.2"/><rect x="182.3" y="1025.4" width="5.399999999999977" height="14.399999999999864" fill="#2a72ba" stroke="#000" stroke-width="1.2"/><rect x="187.7" y="1003" width="6.100000000000023" height="36.799999999999955" fill="#2a72ba" stroke="#000" stroke-width="1.2"/><rect x="193.8" y="976.9" width="5.699999999999989" height="62.89999999999998" fill="#2a72ba" stroke="#000" stroke-width="1.2"/><rect x="199.5" y="958.5" width="6.199999999999989" height="81.29999999999995" fill="#2a72ba" stroke="#000" stroke-width="1.2"/><rect x="205.7" y="959.5" width="5.800000000000011" height="80.29999999999995" fill="#2a72ba" stroke="#000" stroke-width="1.2"/><rect x="211.5" y="966.2" width="6.199999999999989" height="73.59999999999991" fill="#2a72ba" stroke="#000" stroke-width="1.2"/><rect x="217.7" y="1004" width="6.100000000000023" height="35.799999999999955" fill="#2a72ba" stroke="#000" stroke-width="1.2"/><rect x="223.8" y="1030" width="5.399999999999977" height="9.799999999999955" fill="#2a72ba" stroke="#000" stroke-width="1.2"/><rect x="229.2" y="1033" width="3.1000000000000227" height="6.7999999999999545" fill="#2a72ba" stroke="#000" stroke-width="1.2"/>
<path d="M131.8,1038.5 H172 L176.9,1037.5 M232.3,1038 L240,1039 H247.2" stroke="#000" stroke-width="1.5" fill="none"/>
<rect x="131.8" y="954" width="115.39999999999998" height="85.79999999999995" fill="none" stroke="#000" stroke-width="1.9"/>
<text x="149.8" y="1062" font-size="21.5" text-anchor="middle" fill="#000" stroke="#000" stroke-width="0.35" >320</text>
<text x="190.8" y="1062" font-size="21.5" text-anchor="middle" fill="#000" stroke="#000" stroke-width="0.35" >325</text>
<text x="231.8" y="1062" font-size="21.5" text-anchor="middle" fill="#000" stroke="#000" stroke-width="0.35" >330</text>
<text x="192.2" y="1085.8" font-size="21.6" text-anchor="middle" fill="#000" stroke="#000" stroke-width="0.35" >Pressure (GPa)</text>
<text transform="translate(122.6,996.3) rotate(-90)" x="0" y="0" font-size="21.2" text-anchor="middle" fill="#000" stroke="#000" stroke-width="0.35" >Arbitrary units</text>
<text x="121.0" y="921.3" font-size="21.4" text-anchor="start" fill="#000" stroke="#000" stroke-width="0.35" >&lt;P&gt; = 327 GPa</text>
<rect x="143.3" y="948" width="10.4" height="8" fill="#fff"/>
<text x="130.8" y="944.7" font-size="21.7" text-anchor="start" fill="#000" stroke="#000" stroke-width="0.35" >&#916;<tspan font-size="16" dy="4.5">P</tspan><tspan dy="-4.5"> = 1.5 GPa</tspan></text>
<text x="-0.5" y="1326.8" font-size="16.3" text-anchor="start" fill="#000" stroke="#000" stroke-width="0" font-weight="bold" letter-spacing="-0.35">E26975J1</text>
</svg>
</body></html>
